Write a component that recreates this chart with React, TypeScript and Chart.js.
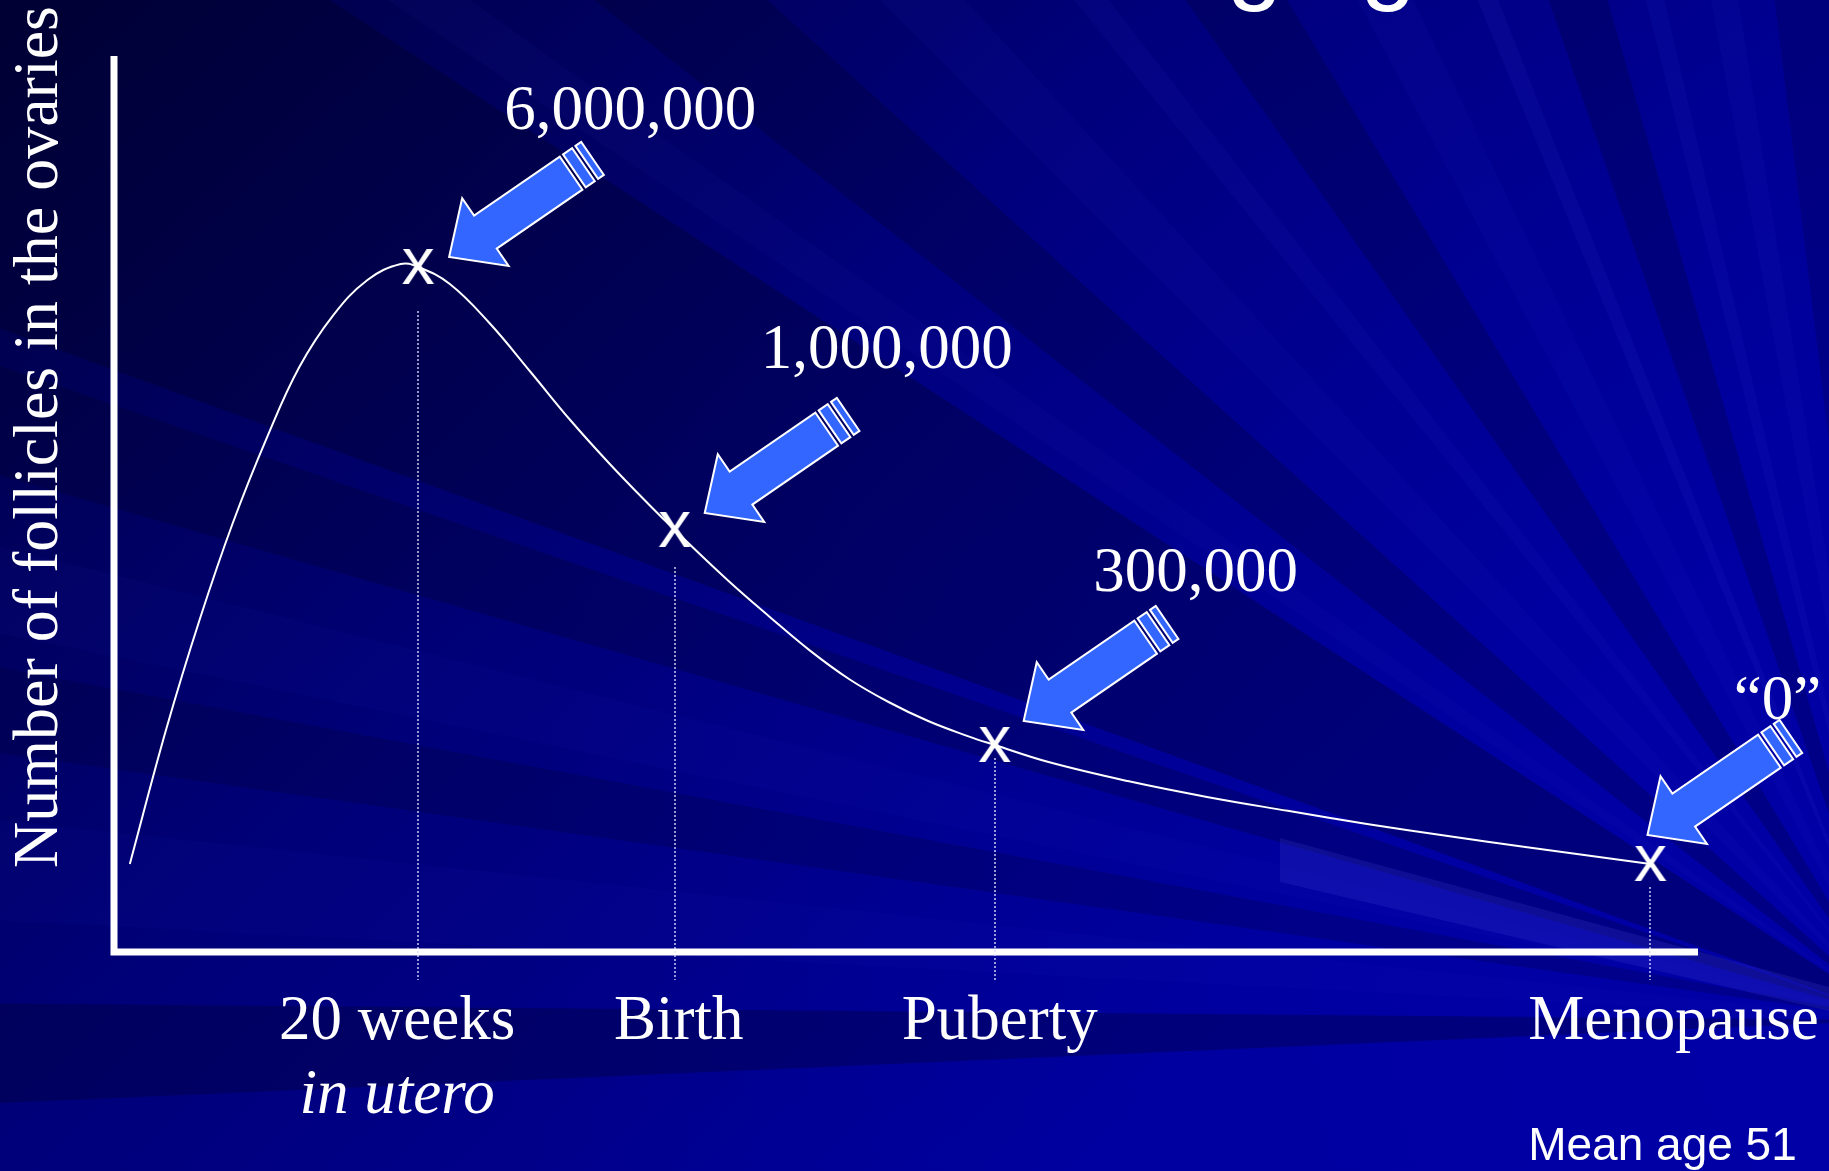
import { useEffect, useRef } from 'react';
import { Chart, LinearScale, registerables } from 'chart.js';

Chart.register(...registerables);

// ---- life stages marked on the curve ----
const stageLabels = ['20 weeks', 'Birth', 'Puberty', 'Menopause'];
const stageNotes = ['in utero', '', '', 'Mean age 51'];
const stageTimes = [19.2, 35.4, 55.6, 97.0];
const stageCounts = [6000000, 1000000, 300000, 0];

// ---- follicle count curve (schematic life-time units, number of follicles) ----
const curveTimes = [
  1.0, 3.3, 5.4, 7.5, 9.7, 11.7, 13.8, 16.0, 18.1, 19.2,
  21.2, 23.7, 26.3, 28.8, 31.3, 33.8, 35.4, 38.8, 41.4, 43.9, 46.4, 48.9, 51.4,
  53.9, 55.6, 59.0, 64.0, 69.0, 74.1, 79.1, 84.1, 89.1, 97.0,
];
const curveCounts = [
  0, 352000, 707000, 1133000, 2790000, 4099000, 5068000, 5753000, 6057000, 6000000,
  5677000, 4935000, 4004000, 3091000, 2255000, 1475000, 1000000, 834000, 717000,
  609000, 515000, 440000, 378000, 329000, 300000,
  257000, 209000, 169000, 134000, 101000, 71000, 43000, 0,
];

// ---- compressed vertical axis: follicle counts -> relative height ----
const axisCounts = [0, 300000, 1000000, 6000000];
const axisHeights = [0, 119, 334, 597];

function interp(v: number, xs: number[], ys: number[]) {
  let i = 1;
  while (i < xs.length - 1 && v > xs[i]) i++;
  const t = (v - xs[i - 1]) / (xs[i] - xs[i - 1]);
  return ys[i - 1] + t * (ys[i] - ys[i - 1]);
}

class CompressedScale extends LinearScale {
  static id = 'compressed';
  static defaults = {};
  getPixelForValue(value: number) {
    return super.getPixelForValue(interp(value, axisCounts, axisHeights));
  }
  getValueForPixel(pixel: number) {
    return interp(super.getValueForPixel(pixel) as number, axisHeights, axisCounts);
  }
}
Chart.register(CompressedScale as any);

const SERIF = '"Liberation Serif", "Times New Roman", serif';
const SANS = '"Liberation Sans", Arial, sans-serif';

// label / arrow placement relative to each stage marker
const valueLabelOffsets = [[212, -138], [212, -162], [201, -154], [127, -145]];
const arrowTipOffsets = [[31, -10], [30, -17], [29, -24], [-3, -29]];
const dropGaps = [44, 37, 13, 23];
const stageLabelShift = [-21, 4, 5, 23];
const stageNoteShift = [-21, 0, 0, 12];

// background beams converging to the lower right
const rayOrigin = [1900, 1020];
const rays: [number, number, string][] = [
  [177.5, 180.5, 'rgba(0,0,40,0.30)'],
  [183, 186, 'rgba(40,40,210,0.06)'],
  [188, 190.5, 'rgba(0,0,30,0.18)'],
  [191.5, 194, 'rgba(40,40,210,0.05)'],
  [196, 199, 'rgba(0,0,25,0.22)'],
  [200, 213, 'rgba(0,0,20,0.28)'],
  [214, 215.5, 'rgba(50,50,220,0.05)'],
  [218, 222, 'rgba(0,0,25,0.22)'],
  [225, 227.5, 'rgba(50,50,220,0.06)'],
  [231, 232.2, 'rgba(60,60,230,0.07)'],
  [235, 239, 'rgba(0,0,30,0.22)'],
  [242, 244.5, 'rgba(50,50,230,0.06)'],
  [247.5, 248.5, 'rgba(80,80,240,0.08)'],
  [251, 254, 'rgba(0,0,30,0.22)'],
  [256, 257, 'rgba(70,70,240,0.07)'],
  [259.5, 261, 'rgba(60,60,230,0.06)'],
  [263, 266, 'rgba(0,0,35,0.18)'],
];

function drawBackdrop(ctx: CanvasRenderingContext2D, w: number, h: number) {
  const g = ctx.createLinearGradient(0, 0, w * 0.6, h);
  g.addColorStop(0, '#000040');
  g.addColorStop(0.5, '#000078');
  g.addColorStop(1, '#00009a');
  ctx.fillStyle = g;
  ctx.fillRect(0, 0, w, h);

  const [ox, oy] = rayOrigin;
  const glow = ctx.createRadialGradient(ox, oy, 0, ox, oy, 1400);
  glow.addColorStop(0, 'rgba(0,0,180,0.5)');
  glow.addColorStop(1, 'rgba(0,0,180,0)');
  ctx.fillStyle = glow;
  ctx.fillRect(0, 0, w, h);

  const R = 3200;
  for (const [a0, a1, c] of rays) {
    const r0 = (a0 * Math.PI) / 180;
    const r1 = (a1 * Math.PI) / 180;
    ctx.beginPath();
    ctx.moveTo(ox, oy);
    ctx.lineTo(ox + R * Math.cos(r0), oy + R * Math.sin(r0));
    ctx.lineTo(ox + R * Math.cos(r1), oy + R * Math.sin(r1));
    ctx.closePath();
    ctx.fillStyle = c;
    ctx.fill();
  }

  // soft light beam across the lower right
  ctx.beginPath();
  ctx.moveTo(1280, 838);
  ctx.lineTo(w, 987);
  ctx.lineTo(w, 1011);
  ctx.lineTo(1280, 882);
  ctx.closePath();
  ctx.fillStyle = 'rgba(80,80,230,0.18)';
  ctx.fill();
}

function drawArrow(ctx: CanvasRenderingContext2D, tx: number, ty: number) {
  const a = (34.5 * Math.PI) / 180;
  const ux = Math.cos(a);
  const uy = -Math.sin(a);
  const nx = Math.sin(a);
  const ny = Math.cos(a);
  const p = (s: number, q: number) => [tx + ux * s + nx * q, ty + uy * s + ny * q];
  const poly = (pts: number[][]) => {
    ctx.beginPath();
    pts.forEach(([x, y], k) => (k ? ctx.lineTo(x, y) : ctx.moveTo(x, y)));
    ctx.closePath();
    ctx.fill();
    ctx.stroke();
  };
  ctx.save();
  ctx.fillStyle = '#3366ff';
  ctx.strokeStyle = '#ffffff';
  ctx.lineWidth = 2;
  ctx.lineJoin = 'miter';
  poly([p(0, 0), p(44, -41), p(44, -20), p(148, -20), p(148, 20), p(44, 20), p(44, 41)]);
  poly([p(152, -20), p(163, -20), p(163, 20), p(152, 20)]);
  poly([p(167, -20), p(174, -20), p(174, 20), p(167, 20)]);
  ctx.restore();
}

function formatCount(v: number) {
  return v === 0 ? '\u201C0\u201D' : v.toLocaleString('en-US');
}

const slidePlugin = {
  id: 'slide',
  beforeDraw(chart: any) {
    drawBackdrop(chart.ctx, chart.width, chart.height);
  },
  beforeDatasetsDraw(chart: any) {
    const { ctx, chartArea: area, scales } = chart;
    ctx.save();
    // axes
    ctx.strokeStyle = '#ffffff';
    ctx.lineWidth = 7;
    ctx.beginPath();
    ctx.moveTo(area.left, area.top);
    ctx.lineTo(area.left, area.bottom + 3.5);
    ctx.moveTo(area.left - 3.5, area.bottom);
    ctx.lineTo(area.right, area.bottom);
    ctx.stroke();
    // dotted drop lines under each stage
    ctx.setLineDash([2, 2]);
    ctx.lineWidth = 1.6;
    ctx.strokeStyle = 'rgba(225,225,255,0.85)';
    stageTimes.forEach((t, i) => {
      const px = Math.round(scales.x.getPixelForValue(t));
      const py = scales.y.getPixelForValue(stageCounts[i]);
      ctx.beginPath();
      ctx.moveTo(px, py + dropGaps[i]);
      ctx.lineTo(px, area.bottom + 28);
      ctx.stroke();
    });
    ctx.restore();
  },
  afterDatasetsDraw(chart: any) {
    const { ctx, chartArea: area, scales } = chart;
    ctx.save();
    ctx.fillStyle = '#ffffff';

    stageTimes.forEach((t, i) => {
      const px = scales.x.getPixelForValue(t);
      const py = scales.y.getPixelForValue(stageCounts[i]);
      drawArrow(ctx, px + arrowTipOffsets[i][0], py + arrowTipOffsets[i][1]);

      ctx.fillStyle = '#ffffff';
      ctx.textAlign = 'center';
      ctx.textBaseline = 'alphabetic';
      ctx.font = `63px ${SERIF}`;
      ctx.fillText(formatCount(stageCounts[i]), px + valueLabelOffsets[i][0], py + valueLabelOffsets[i][1]);

      ctx.fillText(stageLabels[i], px + stageLabelShift[i], area.bottom + 87);
      if (stageNotes[i]) {
        if (i === 0) {
          ctx.font = `italic 63px ${SERIF}`;
          ctx.fillText(stageNotes[i], px + stageNoteShift[i], area.bottom + 161);
        } else {
          ctx.font = `46px ${SANS}`;
          ctx.fillText(stageNotes[i], px + stageNoteShift[i], area.bottom + 208);
        }
      }
    });

    // vertical axis title
    ctx.save();
    ctx.translate(area.left - 57, 437);
    ctx.rotate(-Math.PI / 2);
    ctx.font = `64px ${SERIF}`;
    ctx.textAlign = 'center';
    ctx.fillText('Number of follicles in the ovaries', 0, 0);
    ctx.restore();

    // slide heading, mostly above the top edge
    ctx.font = `100px ${SANS}`;
    ctx.textAlign = 'right';
    ctx.fillText('Ovarian aging', 1416, -9);
    ctx.restore();
  },
};

function makeMarker() {
  const c = document.createElement('canvas');
  c.width = 52;
  c.height = 52;
  const g = c.getContext('2d')!;
  g.fillStyle = '#ffffff';
  g.font = `66px ${SANS}`;
  g.textAlign = 'center';
  g.textBaseline = 'alphabetic';
  g.fillText('x', 26, 26 + 17);
  return c;
}

export default function App() {
  const ref = useRef<HTMLCanvasElement>(null);

  useEffect(() => {
    document.body.style.margin = '0';
    document.body.style.overflow = 'hidden';
    const canvas = ref.current!;
    const chart = new Chart(canvas, {
      type: 'line',
      data: {
        datasets: [
          {
            label: 'Follicles',
            data: curveTimes.map((t, i) => ({ x: t, y: curveCounts[i] })),
            borderColor: '#ffffff',
            borderWidth: 2,
            pointRadius: 0,
            tension: 0.4,
            fill: false,
          },
          {
            label: 'Stages',
            data: stageTimes.map((t, i) => ({ x: t, y: stageCounts[i] })),
            showLine: false,
            pointStyle: makeMarker(),
            pointRadius: 20,
            pointHoverRadius: 20,
          },
        ],
      } as any,
      options: {
        responsive: false,
        animation: false,
        events: [],
        layout: { padding: { left: 114, right: 131, top: 56, bottom: 219 } },
        scales: {
          x: { type: 'linear', min: 0, max: 100, display: false },
          y: { type: 'compressed', min: -88, max: 808, display: false } as any,
        },
        plugins: { legend: { display: false }, tooltip: { enabled: false } },
      },
      plugins: [slidePlugin],
    });
    return () => chart.destroy();
  }, []);

  return <canvas ref={ref} width={1829} height={1171} style={{ display: 'block' }} />;
}
